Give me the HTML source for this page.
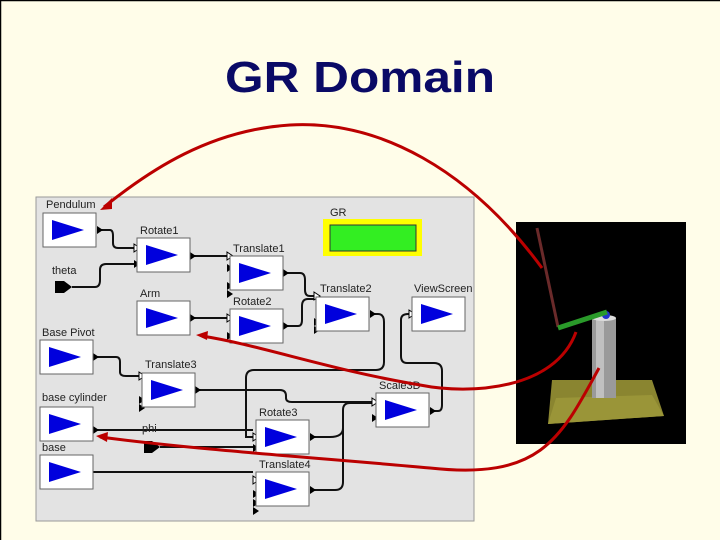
<!DOCTYPE html>
<html><head><style>
html,body{margin:0;padding:0;background:#fffde9;}
svg{display:block;}
text{font-family:"Liberation Sans",sans-serif;}
</style></head><body>
<svg width="720" height="540" viewBox="0 0 720 540" xmlns="http://www.w3.org/2000/svg">
<rect x="0" y="0" width="720" height="540" fill="#fffde9"/>
<path d="M0.5 540 V0.5 H720" fill="none" stroke="#000" stroke-width="1.5"/>
<text x="360" y="92" text-anchor="middle" font-size="44" font-weight="bold" fill="#0a0a66" textLength="270" lengthAdjust="spacingAndGlyphs">GR Domain</text>

<rect x="36" y="197" width="438" height="324" fill="#e3e3e3" stroke="#999" stroke-width="1"/>

<defs>
<g id="blk">
<rect x="0" y="0" width="53" height="34" fill="#fff" stroke="#666" stroke-width="1"/>
<polygon points="9,7 9,27 41,17" fill="#0000dd"/>
</g>
<marker id="ah" viewBox="0 0 10 10" refX="9" refY="5" markerWidth="5" markerHeight="5" orient="auto"><path d="M0,0 L10,5 L0,10 z" fill="#000"/></marker>
</defs>

<g fill="none" stroke="#111" stroke-width="2">
<path d="M97 230 H110 Q113 230 113 236 V243 Q113 248 118 248 H134"/>
<path d="M72 287 H95 Q100 287 100 280 V270 Q100 264 106 264 H134"/>
<path d="M190 256 H227"/>
<path d="M190 318 H227"/>
<path d="M283 273 H300 Q305 273 305 280 V290 Q305 296 310 296 H314"/>
<path d="M283 326 H298 Q302 326 302 320 V306 Q302 299 308 299 H314"/>
<path d="M370 314 H378 Q384 314 384 322 V362 Q384 370 376 370 H254 Q246 370 246 378 V437 H254"/>
<path d="M93 357 H116 Q120 357 120 362 V372 Q120 376 126 376 H139"/>
<path d="M195 390 H280 Q286 390 286 396 V398 Q286 402 292 402 H372"/>
<path d="M93 430 H253"/>
<path d="M160 447 H253"/>
<path d="M93 472 H253"/>
<path d="M310 437 H330 Q343 437 343 428 V410 Q343 403 350 403 H372"/>
<path d="M310 490 H335 Q343 490 343 482 V410"/>
<path d="M430 411 H438 Q442 411 442 405 V371 Q442 363 434 363 H407 Q401 363 401 356 V320 Q401 314 408 314 H410"/>
</g>
<!-- port triangles -->
<g fill="#fff" stroke="#000" stroke-width="1">
<polygon points="134,244 140,248 134,252"/>
<polygon points="227,252 233,256 227,260"/>
<polygon points="227,314 233,318 227,322"/>
<polygon points="314,292 320,296 314,300"/>
<polygon points="409,310 415,314 409,318"/>
<polygon points="139,372 145,376 139,380"/>
<polygon points="253,433 259,437 253,441"/>
<polygon points="253,476 259,480 253,484"/>
<polygon points="372,398 378,402 372,406"/>
</g>
<g fill="#000">
<polygon points="134,260 140,264 134,268"/>
<polygon points="97,226 103,230 97,234"/>
<polygon points="190,252 196,256 190,260"/>
<polygon points="190,314 196,318 190,322"/>
<polygon points="283,269 289,273 283,277"/>
<polygon points="283,322 289,326 283,330"/>
<polygon points="370,310 376,314 370,318"/>
<polygon points="93,353 99,357 93,361"/>
<polygon points="195,386 201,390 195,394"/>
<polygon points="93,426 99,430 93,434"/>
<polygon points="310,433 316,437 310,441"/>
<polygon points="310,486 316,490 310,494"/>
<polygon points="430,407 436,411 430,415"/>
<polygon points="227,264 233,268 227,272"/>
<polygon points="227,282 233,286 227,290"/>
<polygon points="227,290 233,294 227,298"/>
<polygon points="227,332 233,336 227,340"/>
<polygon points="314,318 320,322 314,326"/>
<polygon points="314,326 320,330 314,334"/>
<polygon points="139,396 145,400 139,404"/>
<polygon points="139,404 145,408 139,412"/>
<polygon points="253,444 259,448 253,452"/>
<polygon points="253,490 259,494 253,498"/>
<polygon points="253,499 259,503 253,507"/>
<polygon points="253,507 259,511 253,515"/>
<polygon points="372,414 378,418 372,422"/>
<polygon points="55,281 64,281 72,287 64,293 55,293"/>
<polygon points="144,441 152,441 160,447 152,453 144,453"/>
</g>

<use href="#blk" x="43" y="213"/>
<use href="#blk" x="137" y="238"/>
<use href="#blk" x="230" y="256"/>
<use href="#blk" x="137" y="301"/>
<use href="#blk" x="230" y="309"/>
<use href="#blk" x="316" y="297"/>
<use href="#blk" x="412" y="297"/>
<use href="#blk" x="40" y="340"/>
<use href="#blk" x="142" y="373"/>
<use href="#blk" x="40" y="407"/>
<use href="#blk" x="256" y="420"/>
<use href="#blk" x="376" y="393"/>
<use href="#blk" x="40" y="455"/>
<use href="#blk" x="256" y="472"/>

<rect x="323" y="219" width="99" height="37" fill="#ffff00"/>
<rect x="330" y="225" width="86" height="26" fill="#33ee22" stroke="#333" stroke-width="1"/>

<g font-size="11" fill="#222">
<text x="46" y="208">Pendulum</text>
<text x="140" y="234">Rotate1</text>
<text x="52" y="274">theta</text>
<text x="233" y="252">Translate1</text>
<text x="140" y="297">Arm</text>
<text x="233" y="305">Rotate2</text>
<text x="320" y="292">Translate2</text>
<text x="414" y="292">ViewScreen</text>
<text x="330" y="216">GR</text>
<text x="42" y="336">Base Pivot</text>
<text x="145" y="368">Translate3</text>
<text x="42" y="401">base cylinder</text>
<text x="142" y="432">phi</text>
<text x="259" y="416">Rotate3</text>
<text x="379" y="389">Scale3D</text>
<text x="42" y="451">base</text>
<text x="259" y="468">Translate4</text>
</g>

<!-- 3D view -->
<rect x="516" y="222" width="170" height="222" fill="#000"/>
<polygon points="552,380 652,380 664,416 548,424" fill="#8a8530"/>
<polygon points="548,424 664,416 652,395 556,398" fill="#9a9538"/>
<rect x="592" y="318" width="24" height="80" fill="#9a9a9a"/>
<rect x="596" y="318" width="8" height="80" fill="#c0c0c0"/>
<ellipse cx="604" cy="318" rx="12" ry="3" fill="#ddd"/>
<circle cx="606" cy="315" r="4" fill="#2233cc"/>
<line x1="537" y1="228" x2="558" y2="327" stroke="#6a2a2a" stroke-width="3"/>
<line x1="558" y1="328" x2="607" y2="312" stroke="#2a9a2a" stroke-width="5"/>

<!-- red arrows -->
<g fill="none" stroke="#bb0000" stroke-width="3">
<path d="M542 268 C470 170 380 120 290 125 C210 130 150 170 104 207"/>
<path d="M576 332 C555 390 470 395 420 385 C330 370 260 345 202 336"/>
<path d="M599 368 C560 440 540 480 430 468 C320 458 200 450 100 437"/>
</g>
<g fill="#bb0000">
<polygon points="100,210 112,198 112,209"/>
<polygon points="196,335 208,331 207,340"/>
<polygon points="96,436 108,432 107,442"/>
</g>
</svg>
</body></html>
